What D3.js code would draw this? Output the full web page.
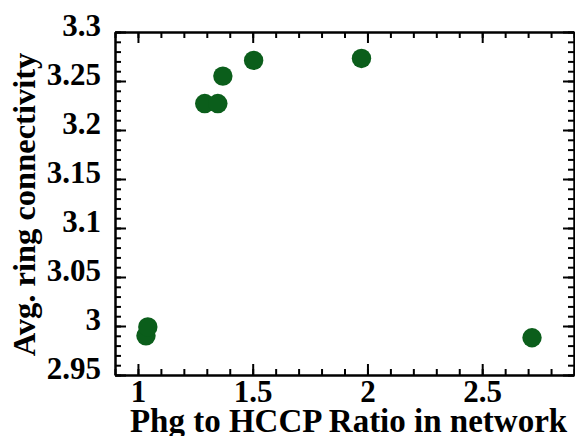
<!DOCTYPE html>
<html>
<head>
<meta charset="utf-8">
<script src="https://cdn.jsdelivr.net/npm/d3@7"></script>
<style>
  body { margin: 0; background: #fff; }
  svg { display: block; }
  text { font-family: "Liberation Serif", "Times New Roman", serif; font-weight: bold; fill: #000; }
</style>
</head>
<body>
<svg id="chart" width="575" height="436"></svg>
<script>
/* DATA */
const ratio = [1.035, 1.043, 1.291, 1.348, 1.370, 1.504, 1.974, 2.717];
const connectivity = [2.990, 2.999, 3.227, 3.227, 3.255, 3.271, 3.273, 2.988];

const xMajor = [1, 1.5, 2, 2.5];
const xMinor = d3.range(9, 30).map(d => d / 10);
const yMajor = [2.95, 3, 3.05, 3.1, 3.15, 3.2, 3.25, 3.3];
const yMinor = d3.range(295, 331).map(d => d / 100);

const xTitle = "Phg to HCCP Ratio in network";
const yTitle = "Avg. ring connectivity";

/* LAYOUT */
const plotL = 115, plotR = 574, plotT = 32, plotB = 375;

const svg = d3.select("#chart");

const x = d3.scaleLinear().domain([0.9, 2.9]).range([plotL, plotR]);
const y = d3.scaleLinear().domain([2.95, 3.3]).range([plotB, plotT]);

// draw one side of the frame: minor ticks, then major ticks (+ labels)
function side(axisFn, scale, pos, major, minor, labels) {
  const g = svg.append("g").attr("transform", pos);
  g.append("g").call(axisFn(scale).tickValues(minor).tickSize(-6).tickSizeOuter(0).tickFormat(""));
  const m = g.append("g").call(axisFn(scale).tickValues(major).tickSize(-11)
      .tickSizeOuter(0).tickFormat(labels ? d3.format("") : ""));
  g.selectAll(".domain").attr("stroke-width", 2).attr("stroke", "#000");
  g.selectAll(".tick line").attr("stroke-width", 2).attr("stroke", "#000");
  return m;
}

const bottomAx = side(d3.axisBottom, x, `translate(0,${plotB})`, xMajor, xMinor, true);
bottomAx.call(a => a.selectAll(".tick text").attr("y", 5));

side(d3.axisTop, x, `translate(0,${plotT})`, xMajor, xMinor, false);

const leftAx = side(d3.axisLeft, y, `translate(${plotL},0)`, yMajor, yMinor, true);
leftAx.call(a => a.selectAll(".tick text").attr("x", -14).attr("dy", "0.1em"));

side(d3.axisRight, y, `translate(${plotR},0)`, yMajor, yMinor, false);

svg.selectAll(".tick text").style("font-size", "31px")
  .style("font-family", "'Liberation Serif', 'Times New Roman', serif")
  .style("font-weight", "bold");

// points
svg.append("g")
  .selectAll("circle")
  .data(ratio.map((r, i) => [r, connectivity[i]]))
  .join("circle")
  .attr("cx", d => x(d[0]))
  .attr("cy", d => y(d[1]))
  .attr("r", 9.7)
  .attr("fill", "#0b5e1b");

// axis titles
svg.append("text")
  .attr("x", (plotL + plotR) / 2 + 4)
  .attr("y", 432)
  .attr("text-anchor", "middle")
  .style("font-size", "33px")
  .text(xTitle);

svg.append("text")
  .attr("transform", `translate(35,${(plotT + plotB) / 2 + 1}) rotate(-90)`)
  .attr("text-anchor", "middle")
  .style("font-size", "32.5px")
  .text(yTitle);
</script>
</body>
</html>
